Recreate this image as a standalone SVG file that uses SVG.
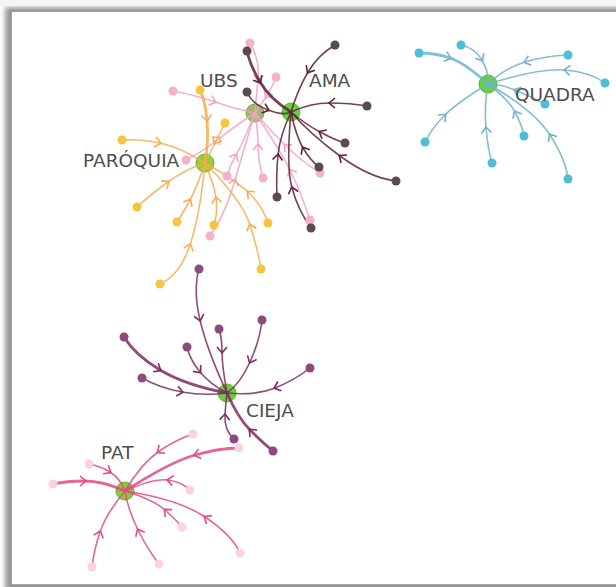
<svg xmlns="http://www.w3.org/2000/svg" width="616" height="587" viewBox="0 0 616 587">
<defs>
<filter id="sh" x="-5%" y="-5%" width="110%" height="110%"><feGaussianBlur stdDeviation="2.5"/></filter>
<marker id="m-ama" viewBox="-7 -7 14 14" refX="0" refY="0" markerWidth="14" markerHeight="14" markerUnits="userSpaceOnUse" orient="auto"><path d="M-5,-5 L1,0 L-5,5" fill="none" stroke="#5e1f3c" stroke-width="1.6"/></marker>
<marker id="m-ubs" viewBox="-7 -7 14 14" refX="0" refY="0" markerWidth="14" markerHeight="14" markerUnits="userSpaceOnUse" orient="auto"><path d="M-5,-5 L1,0 L-5,5" fill="none" stroke="#f3a3c3" stroke-width="1.6"/></marker>
<marker id="m-par" viewBox="-7 -7 14 14" refX="0" refY="0" markerWidth="14" markerHeight="14" markerUnits="userSpaceOnUse" orient="auto"><path d="M-5,-5 L1,0 L-5,5" fill="none" stroke="#f4ad4e" stroke-width="1.6"/></marker>
<marker id="m-qua" viewBox="-7 -7 14 14" refX="0" refY="0" markerWidth="14" markerHeight="14" markerUnits="userSpaceOnUse" orient="auto"><path d="M-5,-5 L1,0 L-5,5" fill="none" stroke="#6fb3cb" stroke-width="1.6"/></marker>
<marker id="m-cie" viewBox="-7 -7 14 14" refX="0" refY="0" markerWidth="14" markerHeight="14" markerUnits="userSpaceOnUse" orient="auto"><path d="M-5,-5 L1,0 L-5,5" fill="none" stroke="#7d2a64" stroke-width="1.6"/></marker>
<marker id="m-pat" viewBox="-7 -7 14 14" refX="0" refY="0" markerWidth="14" markerHeight="14" markerUnits="userSpaceOnUse" orient="auto"><path d="M-5,-5 L1,0 L-5,5" fill="none" stroke="#e14a84" stroke-width="1.6"/></marker>
</defs>
<style>
.e{fill:none;stroke-width:1.6;stroke-opacity:0.85;stroke-linecap:round}
.w{stroke-width:2.8}
.ama{stroke:#5e1f3c;marker-mid:url(#m-ama)}
.ubs{stroke:#f3a3c3;marker-mid:url(#m-ubs)}
.par{stroke:#f4ad4e;marker-mid:url(#m-par)}
.qua{stroke:#6fb3cb;marker-mid:url(#m-qua)}
.cie{stroke:#7d2a64;marker-mid:url(#m-cie)}
.pat{stroke:#e14a84;marker-mid:url(#m-pat)}
.hub circle{fill:#66d23a;stroke:#58b832;stroke-width:1}
.leaf circle{stroke:none}
.l-ama circle{fill:#5a4a52}
.l-ubs circle{fill:#f6b0c8}
.l-par circle{fill:#f5c542}
.l-qua circle{fill:#4fbdd3}
.l-cie circle{fill:#8c4b7d}
.l-pat circle{fill:#fbd3dd}
text{font-family:"DejaVu Sans","Liberation Sans",sans-serif;font-size:18.5px;fill:#4d4d4d}
</style>
<rect x="5" y="7" width="630" height="584" fill="#9a9a9a" filter="url(#sh)"/>
<rect x="0" y="0" width="616" height="6" fill="#f4f4f4"/>
<rect x="11" y="11" width="612" height="574" fill="#fff" stroke="#8c8c8c" stroke-width="1.5"/>

<g id="hub-ubs" class="hub"><circle cx="255" cy="113" r="9" style="fill:#a8b272"/></g>
<g id="hub-ama" class="hub"><circle cx="291" cy="112" r="9"/></g>
<g id="hub-paroquia" class="hub"><circle cx="205" cy="163" r="9" style="fill:#9ccc34"/></g>
<g id="hub-quadra" class="hub"><circle cx="488" cy="84" r="9"/></g>
<g id="hub-cieja" class="hub"><circle cx="227" cy="393" r="9"/></g>
<g id="hub-pat" class="hub"><circle cx="125" cy="491" r="9" style="fill:#8fc440"/></g>

<g id="connectors">
<!-- UBS -->
<path class="e ubs" d="M173,91 Q195,95 215,102 T255,113"/>
<path class="e ubs" d="M250,43 Q260,60 258,80 T255,113"/>
<path class="e ubs" d="M276,77 Q272,88 266,97 T255,113"/>
<path class="e ubs" d="M263,178 Q258,160 258,145 T255,113"/>
<path class="e ubs" d="M320,173 Q300,160 285,145 T255,113"/>
<path class="e ubs" d="M310,220 Q300,190 290,170 T255,113"/>
<path class="e ubs" d="M210,236 Q225,215 235,180 T255,113"/>
<path class="e ubs" d="M227,176 Q230,165 236,155 T255,113"/>
<path class="e ubs" d="M186,160 Q205,150 220,138 T255,113"/>
<!-- PARÓQUIA -->
<path class="e par" d="M122,140 Q140,139 160,143 T205,163"/>
<path class="e par" d="M137,207 Q150,195 168,182 T205,163"/>
<path class="e par" d="M177,222 Q183,213 190,200 T205,163"/>
<path class="e par" d="M160,284 Q180,275 190,245 T205,163"/>
<path class="e par" d="M214,225 Q218,212 216,198 T205,163"/>
<path class="e par" d="M268,223 Q262,205 248,192 T205,163"/>
<path class="e par" d="M261,269 Q258,250 250,225 T205,163"/>
<path class="e par w" d="M200,90 Q205,100 207,120 T205,163"/>
<path class="e par" d="M225,123 Q220,133 215,143 T205,163"/>
<!-- AMA -->
<path class="e ama" d="M335,45 Q318,55 308,72 T291,112"/>
<path class="e ama" d="M367,106 Q350,103 330,103 T291,112"/>
<path class="e ama w" d="M247,51 Q250,65 260,82 T291,112"/>
<path class="e ama" d="M247,92 Q252,104 268,110 T291,112"/>
<path class="e ama" d="M345,143 Q335,140 320,132 T291,112"/>
<path class="e ama" d="M319,167 Q310,160 303,148 T291,112"/>
<path class="e ama" d="M396,181 Q370,178 340,156 T291,112"/>
<path class="e ama" d="M277,197 Q276,175 278,155 T291,112"/>
<path class="e ama" d="M311,228 Q298,210 292,188 T291,112"/>
<!-- QUADRA -->
<path class="e qua w" d="M419,53 Q435,53 450,58 T488,84"/>
<path class="e qua" d="M461,45 Q475,48 482,60 T488,84"/>
<path class="e qua" d="M568,55 Q545,56 525,62 T488,84"/>
<path class="e qua" d="M605,83 Q590,72 565,70 T488,84"/>
<path class="e qua" d="M545,104 Q530,96 515,90 T488,84"/>
<path class="e qua" d="M425,142 Q432,128 445,115 T488,84"/>
<path class="e qua" d="M492,163 Q488,150 486,128 T488,84"/>
<path class="e qua" d="M524,136 Q522,125 515,112 T488,84"/>
<path class="e qua" d="M568,179 Q566,160 550,135 T488,84"/>
<!-- CIEJA -->
<path class="e cie" d="M199,269 Q193,290 200,320 T227,393"/>
<path class="e cie" d="M262,320 Q260,340 250,362 T227,393"/>
<path class="e cie" d="M219,329 Q222,338 222,352 T227,393"/>
<path class="e cie w" d="M124,337 Q135,355 160,370 T227,393"/>
<path class="e cie" d="M187,347 Q190,360 200,372 T227,393"/>
<path class="e cie" d="M310,368 Q295,380 275,388 T227,393"/>
<path class="e cie" d="M142,378 Q160,388 182,392 T227,393"/>
<path class="e cie" d="M234,439 Q224,430 225,415 T227,393"/>
<path class="e cie w" d="M273,451 Q262,442 250,430 T227,393"/>
<!-- PAT -->
<path class="e pat" d="M193,434 Q175,440 158,452 T125,491"/>
<path class="e pat w" d="M239,448 Q220,448 195,455 T125,491"/>
<path class="e pat" d="M89,464 Q100,466 110,472 T125,491"/>
<path class="e pat w" d="M53,484 Q67,481 85,481 T125,491"/>
<path class="e pat" d="M190,490 Q182,482 168,480 T125,491"/>
<path class="e pat" d="M182,527 Q176,520 165,510 T125,491"/>
<path class="e pat" d="M240,553 Q232,535 205,517 T125,491"/>
<path class="e pat" d="M92,567 Q94,550 100,532 T125,491"/>
<path class="e pat" d="M159,564 Q148,550 138,530 T125,491"/>
</g>

<g id="ubs-leaves" class="leaf l-ubs">
<g id="ubs-1"><circle cx="173" cy="91" r="4.5"/></g>
<g id="ubs-2"><circle cx="250" cy="43" r="4.5"/></g>
<g id="ubs-3"><circle cx="276" cy="77" r="4.5"/></g>
<g id="ubs-4"><circle cx="263" cy="178" r="4.5"/></g>
<g id="ubs-5"><circle cx="320" cy="173" r="4.5"/></g>
<g id="ubs-6"><circle cx="310" cy="220" r="4.5"/></g>
<g id="ubs-7"><circle cx="210" cy="236" r="4.5"/></g>
<g id="ubs-8"><circle cx="227" cy="176" r="4.5"/></g>
<g id="ubs-9"><circle cx="186" cy="160" r="4.5"/></g>
</g>
<g id="par-leaves" class="leaf l-par">
<g id="par-1"><circle cx="122" cy="140" r="4.5"/></g>
<g id="par-2"><circle cx="137" cy="207" r="4.5"/></g>
<g id="par-3"><circle cx="177" cy="222" r="4.5"/></g>
<g id="par-4"><circle cx="160" cy="284" r="4.5"/></g>
<g id="par-5"><circle cx="214" cy="225" r="4.5"/></g>
<g id="par-6"><circle cx="268" cy="223" r="4.5"/></g>
<g id="par-7"><circle cx="261" cy="269" r="4.5"/></g>
<g id="par-8"><circle cx="200" cy="90" r="4.5"/></g>
<g id="par-9"><circle cx="225" cy="123" r="4.5"/></g>
</g>
<g id="ama-leaves" class="leaf l-ama">
<g id="ama-1"><circle cx="335" cy="45" r="4.5"/></g>
<g id="ama-2"><circle cx="367" cy="106" r="4.5"/></g>
<g id="ama-3"><circle cx="247" cy="51" r="4.5"/></g>
<g id="ama-4"><circle cx="247" cy="92" r="4.5"/></g>
<g id="ama-5"><circle cx="345" cy="143" r="4.5"/></g>
<g id="ama-6"><circle cx="319" cy="167" r="4.5"/></g>
<g id="ama-7"><circle cx="396" cy="181" r="4.5"/></g>
<g id="ama-8"><circle cx="277" cy="197" r="4.5"/></g>
<g id="ama-9"><circle cx="311" cy="228" r="4.5"/></g>
</g>
<g id="qua-leaves" class="leaf l-qua">
<g id="qua-1"><circle cx="419" cy="53" r="4.5"/></g>
<g id="qua-2"><circle cx="461" cy="45" r="4.5"/></g>
<g id="qua-3"><circle cx="568" cy="55" r="4.5"/></g>
<g id="qua-4"><circle cx="605" cy="83" r="4.5"/></g>
<g id="qua-5"><circle cx="545" cy="104" r="4.5"/></g>
<g id="qua-6"><circle cx="425" cy="142" r="4.5"/></g>
<g id="qua-7"><circle cx="492" cy="163" r="4.5"/></g>
<g id="qua-8"><circle cx="524" cy="136" r="4.5"/></g>
<g id="qua-9"><circle cx="568" cy="179" r="4.5"/></g>
</g>
<g id="cie-leaves" class="leaf l-cie">
<g id="cie-1"><circle cx="199" cy="269" r="4.5"/></g>
<g id="cie-2"><circle cx="262" cy="320" r="4.5"/></g>
<g id="cie-3"><circle cx="219" cy="329" r="4.5"/></g>
<g id="cie-4"><circle cx="124" cy="337" r="4.5"/></g>
<g id="cie-5"><circle cx="187" cy="347" r="4.5"/></g>
<g id="cie-6"><circle cx="310" cy="368" r="4.5"/></g>
<g id="cie-7"><circle cx="142" cy="378" r="4.5"/></g>
<g id="cie-8"><circle cx="234" cy="439" r="4.5"/></g>
<g id="cie-9"><circle cx="273" cy="451" r="4.5"/></g>
</g>
<g id="pat-leaves" class="leaf l-pat">
<g id="pat-1"><circle cx="193" cy="434" r="4.5"/></g>
<g id="pat-2"><circle cx="239" cy="448" r="4.5"/></g>
<g id="pat-3"><circle cx="89" cy="464" r="4.5"/></g>
<g id="pat-4"><circle cx="53" cy="484" r="4.5"/></g>
<g id="pat-5"><circle cx="190" cy="490" r="4.5"/></g>
<g id="pat-6"><circle cx="182" cy="527" r="4.5"/></g>
<g id="pat-7"><circle cx="240" cy="553" r="4.5"/></g>
<g id="pat-8"><circle cx="92" cy="567" r="4.5"/></g>
<g id="pat-9"><circle cx="159" cy="564" r="4.5"/></g>
</g>

<g id="labels">
<text x="200" y="87">UBS</text>
<text x="309" y="87">AMA</text>
<text x="83" y="167">PARÓQUIA</text>
<text x="515" y="101">QUADRA</text>
<text x="246" y="417">CIEJA</text>
<text x="101" y="459">PAT</text>
</g>
</svg>
